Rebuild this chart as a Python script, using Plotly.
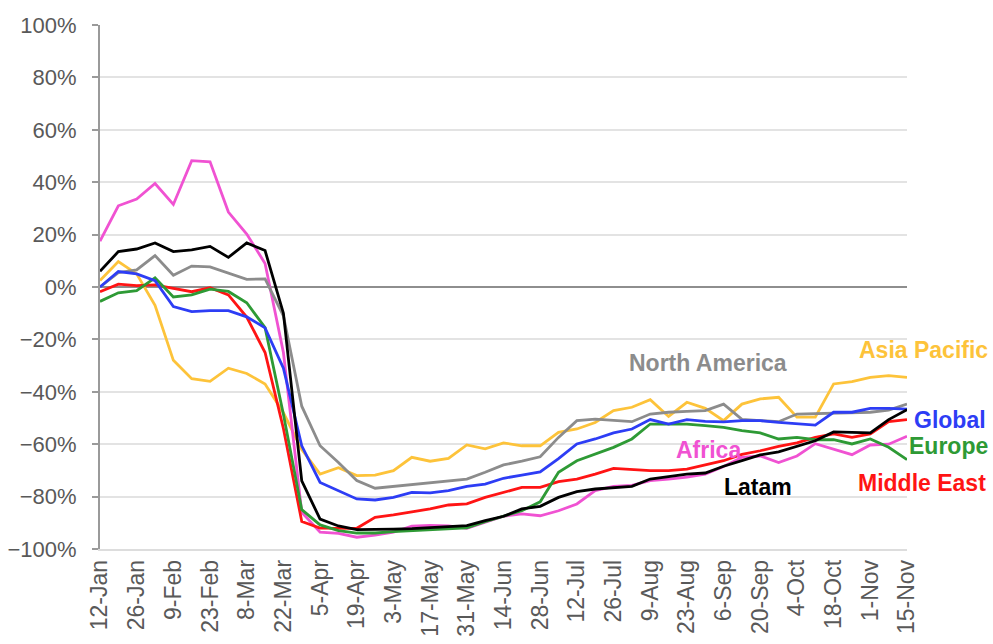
import plotly.graph_objects as go

weeks = ["12-Jan", "19-Jan", "26-Jan", "2-Feb", "9-Feb", "16-Feb", "23-Feb", "1-Mar", "8-Mar",
         "15-Mar", "22-Mar", "29-Mar", "5-Apr", "12-Apr", "19-Apr", "26-Apr", "3-May", "10-May",
         "17-May", "24-May", "31-May", "7-Jun", "14-Jun", "21-Jun", "28-Jun", "5-Jul", "12-Jul",
         "19-Jul", "26-Jul", "2-Aug", "9-Aug", "16-Aug", "23-Aug", "30-Aug", "6-Sep", "13-Sep",
         "20-Sep", "27-Sep", "4-Oct", "11-Oct", "18-Oct", "25-Oct", "1-Nov", "8-Nov", "15-Nov"]
tick_labels = weeks[::2]

asia_pacific = [2.5, 9.7, 5, -7, -28, -35, -36, -31, -33, -37, -48, -62, -71.4, -69, -72, -71.8,
                -70.1, -65, -66.5, -65.4, -60.3, -61.8, -59.5, -60.6, -60.6, -55.5, -54.2, -51.7,
                -47.2, -45.9, -43, -49.4, -44, -46.3, -51, -44.7, -42.7, -42.1, -49.7, -49.7, -37,
                -36.1, -34.5, -33.8, -34.5]
africa = [17.5, 31, 33.6, 39.5, 31.5, 48.2, 47.8, 28.6, 20.2, 9, -25, -86, -93.6, -94, -95.5,
          -94.7, -93.6, -91.3, -91, -91.2, -92.1, -89.8, -87.5, -86.6, -87.3, -85.4, -82.8, -77.7,
          -76.1, -75.7, -73.9, -73.3, -72.6, -71.4, -68.5, -65, -64.5, -67, -64.5, -59.8, -61.8,
          -64, -60.3, -60, -57]
middle_east = [-1.8, 1.1, 0.5, 0.8, -0.5, -1.8, -0.3, -3, -11.5, -25, -54, -89.5, -92, -92, -92.1,
               -87.9, -87, -85.8, -84.7, -83.2, -82.8, -80.3, -78.4, -76.5, -76.5, -74.3, -73.3,
               -71.4, -69.2, -69.7, -70.1, -70.1, -69.5, -67.9, -66.3, -63.9, -62.5, -60.8, -59.5,
               -57.4, -56.1, -57.4, -56.1, -51.4, -50.6]
europe = [-5.5, -2.2, -1.4, 3.5, -3.8, -3, -0.8, -1.7, -6, -15.5, -48.6, -85, -90.8, -93, -93.9,
          -93.9, -93.4, -93, -92.8, -92.4, -91.9, -89.6, -87.5, -85.4, -82, -70.7, -66.3, -63.7,
          -61.2, -58, -52.3, -52.3, -52.3, -52.9, -53.6, -54.8, -55.7, -58, -57.4, -58.3, -58.3,
          -59.9, -58, -61.2, -65.9]
north_america = [0, 5.5, 6.5, 12, 4.5, 8, 7.7, 5.3, 2.9, 3.1, -11, -45.5, -60.6, -67, -73.9, -76.8,
                 -76.1, -75.5, -74.9, -74.2, -73.3, -70.7, -67.9, -66.5, -64.8, -57.4, -51, -50.4,
                 -51, -51.4, -48.5, -47.8, -47.5, -47.2, -44.7, -50.5, -51, -51.4, -48.5, -48.3,
                 -48, -48, -47.8, -47, -44.7]
global_ = [0, 5.9, 5, 2.4, -7.5, -9.4, -9, -9, -11.4, -15.6, -31, -60.6, -74.6, -77.7, -80.9,
           -81.3, -80.3, -78.4, -78.6, -77.7, -76.1, -75.2, -73, -71.8, -70.6, -65.5, -59.9, -58,
           -55.7, -54.2, -50.6, -52.3, -50.6, -51.3, -51.5, -51, -51, -51.7, -52.3, -52.7, -47.8,
           -47.8, -46.3, -46.3, -46.6]
latam = [6, 13.5, 14.5, 16.8, 13.5, 14.2, 15.5, 11.3, 16.8, 13.9, -10, -74, -88.6, -91.2, -92.6,
         -92.6, -92.4, -92.2, -91.9, -91.5, -91.1, -89.2, -87.5, -84.7, -83.7, -80.3, -78.1, -77.1,
         -76.5, -76.1, -73.3, -72.3, -71.4, -71, -68.4, -66.3, -64.1, -62.9, -60.8, -58.7, -55.3,
         -55.6, -55.7, -50.6, -46.8]

series = [
    ("Asia Pacific", asia_pacific, "#FDC33A"),
    ("Africa", africa, "#F052D2"),
    ("Middle East", middle_east, "#FF1414"),
    ("Europe", europe, "#2E9A35"),
    ("North America", north_america, "#8C8C8C"),
    ("Global", global_, "#2D3DF5"),
    ("Latam", latam, "#000000"),
]

fig = go.Figure()
for name, vals, col in series:
    fig.add_trace(go.Scatter(x=weeks, y=vals, mode="lines", name=name,
                             line=dict(color=col, width=2.8), showlegend=False))

W, H = 993, 644
L, R, T, B = 100, 907, 25, 549

labels = [
    ("North America", "#8C8C8C", 708, 363, "center"),
    ("Asia Pacific", "#FDC33A", 990, 350, "right"),
    ("Global", "#2D3DF5", 988, 420, "right"),
    ("Europe", "#2E9A35", 990, 446, "right"),
    ("Africa", "#F052D2", 708, 450, "center"),
    ("Latam", "#000000", 758, 487, "center"),
    ("Middle East", "#FF1414", 988, 483, "right"),
]
for txt, col, px, py, anc in labels:
    fig.add_annotation(text="<b>%s</b>" % txt, xref="paper", yref="paper",
                       x=(px - L) / (R - L), y=(B - py) / (B - T), showarrow=False,
                       xanchor=anc, yanchor="middle",
                       font=dict(family="Liberation Sans, Arial, sans-serif", size=23, color=col))

fig.update_layout(
    width=W, height=H,
    margin=dict(l=L, r=W - R, t=T, b=H - B, autoexpand=False),
    plot_bgcolor="white", paper_bgcolor="white",
    font=dict(family="Liberation Sans, Arial, sans-serif", color="#595959"),
)
fig.update_xaxes(type="category", range=[0, len(weeks) - 1], tickmode="array",
                 tickvals=tick_labels, ticktext=tick_labels, tickangle=-90,
                 tickfont=dict(size=23, color="#595959"), showgrid=False, automargin=False,
                 showline=True, linecolor="#DDDDDD", linewidth=1.5, ticks="")
fig.update_yaxes(range=[-100, 100], dtick=20, ticksuffix="%", showgrid=True, automargin=False,
                 gridcolor="#E3E3E3", gridwidth=1.5, zeroline=True, zerolinecolor="#8E8E8E",
                 zerolinewidth=2, showline=True, linecolor="#9A9A9A", linewidth=2,
                 ticks="outside", ticklen=6, tickcolor="#9A9A9A", tickwidth=1.5,
                 tickfont=dict(size=22, color="#595959"), ticklabelstandoff=11)

fig.write_html("out.html", config={"displayModeBar": False},
               post_script="document.body.style.margin='0';document.body.style.overflow='hidden';")
